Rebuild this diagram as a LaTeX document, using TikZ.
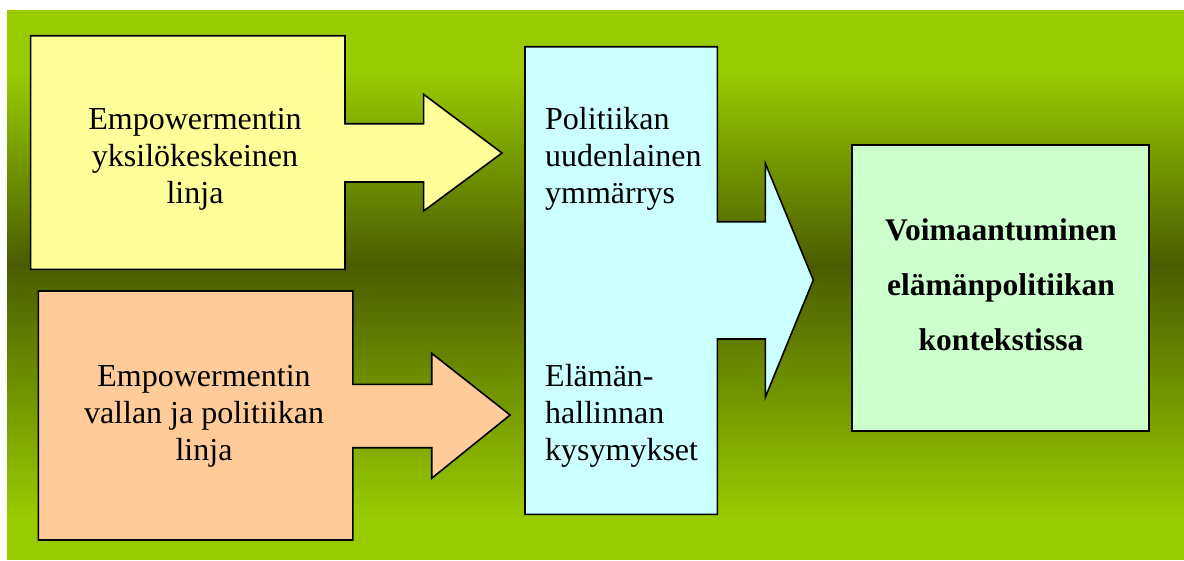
\documentclass[tikz,border=0pt]{standalone}
\usepackage{fontspec}
\setmainfont{Liberation Serif}
\definecolor{bgbright}{HTML}{99CC00}
\definecolor{bgdark}{HTML}{4A5C00}
\definecolor{yel}{HTML}{FFFF99}
\definecolor{ora}{HTML}{FFCC99}
\definecolor{blu}{HTML}{CCFFFF}
\definecolor{grn}{HTML}{CCFFCC}
\tikzset{
  shapebox/.style={draw=black, line width=1.6pt, line join=miter},
  txt/.style={inner sep=0pt, font=\fontsize{32}{37}\selectfont},
  btxt/.style={inner sep=0pt, font=\fontsize{31.5}{55}\selectfont\bfseries},
}
\begin{document}
\begin{tikzpicture}[x=1pt,y=-1pt]
\useasboundingbox (0,0) rectangle (1184,560);
\fill[white] (0,0) rectangle (1184,560);
% background gradient
\fill[bgbright] (7,10) rectangle (1184,72);
\shade[top color=bgbright, bottom color=bgdark] (7,71.5) rectangle (1184,265);
\shade[top color=bgdark, bottom color=bgbright] (7,264.5) rectangle (1184,520);
\fill[bgbright] (7,519.5) rectangle (1184,560);
% yellow arrow box
\draw[shapebox, fill=yel] (30.6,35.7) -- (345,35.7) -- (345,123.7) -- (423.6,123.7) -- (423.6,94.3) -- (502,153) -- (423.6,211) -- (423.6,182) -- (345,182) -- (345,269.3) -- (30.6,269.3) -- cycle;
% orange arrow box
\draw[shapebox, fill=ora] (38.3,291) -- (352.9,291) -- (352.9,384.3) -- (431.7,384.3) -- (431.7,353.3) -- (510.1,415) -- (431.7,478.3) -- (431.7,447.7) -- (352.9,447.7) -- (352.9,540) -- (38.3,540) -- cycle;
% blue arrow box
\draw[shapebox, fill=blu] (525,46.7) -- (717.3,46.7) -- (717.3,221.7) -- (765.3,221.7) -- (765.3,163.3) -- (813.3,280) -- (765.3,397.3) -- (765.3,339) -- (717.3,339) -- (717.3,514.3) -- (525,514.3) -- cycle;
% green box
\draw[shapebox, fill=grn] (851.7,145) rectangle (1148.8,431);
% texts (base anchor = baseline of last line)
\node[txt, align=center, anchor=base] (yt) at (195,203) {Empowermentin\\yksilökeskeinen\\linja};
\node[txt, align=center, anchor=base] (ot) at (204,460) {Empowermentin\\vallan ja politiikan\\linja};
\node[txt, align=left, anchor=base west] (bt1) at (545,203) {Politiikan\\uudenlainen\\ymmärrys};
\node[txt, align=left, anchor=base west] (bt2) at (545,460) {Elämän-\\hallinnan\\kysymykset};
\node[btxt, align=center, anchor=base] (gt) at (1001,350.7) {Voimaantuminen\\elämänpolitiikan\\kontekstissa};
\end{tikzpicture}
\end{document}
